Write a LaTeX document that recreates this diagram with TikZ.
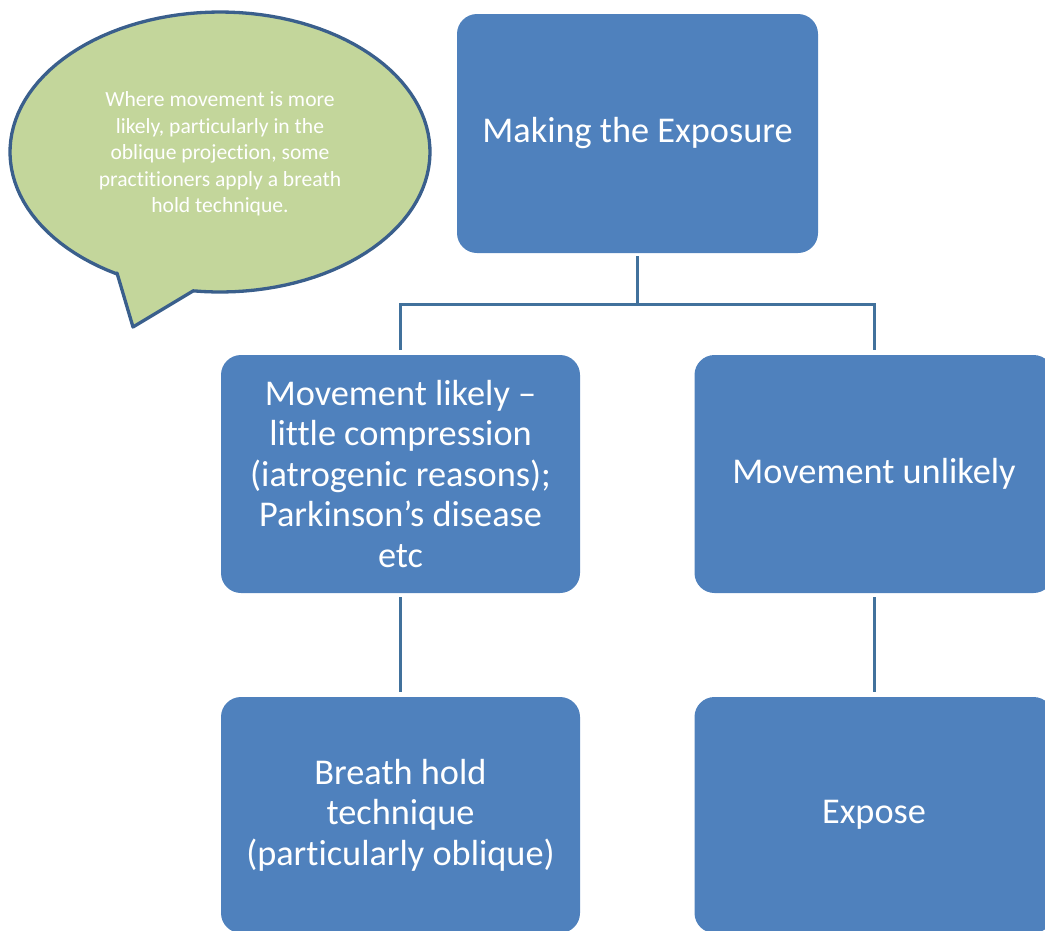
\documentclass[tikz,border=0pt]{standalone}
\usepackage{fontspec}
\setmainfont{Carlito}[Ligatures=NoCommon]
\usepackage{xcolor}
\usetikzlibrary{positioning}
\definecolor{boxblue}{HTML}{4F81BD}
\definecolor{linkblue}{HTML}{41719C}
\definecolor{notegreen}{HTML}{C3D69B}
\definecolor{noteedge}{HTML}{3A5F8C}
\tikzset{
      stepbox/.style  = {rectangle, rounded corners=20pt, fill=boxblue, text=white,
                         minimum width=359pt, minimum height=238pt, inner sep=0pt,
                         align=center, font=\fontsize{36.3}{40.5}\selectfont},
      link/.style     = {draw=linkblue, line width=3pt},
      notetext/.style = {text=white, align=center, inner sep=0pt,
                         font=\fontsize{21.6}{26.5}\selectfont}
    }

\begin{document}
\begin{tikzpicture}[x=1pt, y=-1pt]
  \useasboundingbox (0,0) rectangle (1045,930);
  \clip (0,0) rectangle (1045,930);
  % Speech bubble
  \filldraw[fill=notegreen, draw=noteedge, line width=3.3pt, line join=round]
    (117,273) -- (133,327) -- (193,291)
    -- plot[domain=97.4:-240.6, samples=120] ({220+210*cos(\x)}, {152+140*sin(\x)}) -- cycle;
  \node[notetext] (note) at (220,154) {Where movement is more\\likely, particularly in the\\oblique projection, some\\practitioners apply a breath\\hold technique.};
  % Boxes
  \node[stepbox, minimum width=361pt, minimum height=239pt] (make) at (637.5,133.5) {Making the Exposure};
  \node[stepbox] (likely) at (400.5,474) {Movement likely –\\little compression\\(iatrogenic reasons);\\Parkinson’s disease\\etc};
  \node[stepbox] (unlikely) at (874,474) {Movement unlikely};
  \node[stepbox, minimum height=236pt] (breath) at (400.5,815) {Breath hold\\technique\\(particularly oblique)};
  \node[stepbox, minimum height=236pt] (expose) at (874,815) {Expose};
  % Connectors
  \coordinate (fork) at (637.5,304);
  \draw[link, shorten <=3pt] (make.south) -- (fork);
  \draw[link, shorten >=5pt] (fork) -| (likely.north);
  \draw[link, shorten >=5pt] (fork) -| (unlikely.north);
  \draw[link, shorten <=4pt, shorten >=5pt] (likely.south) -- (breath.north);
  \draw[link, shorten <=4pt, shorten >=5pt] (unlikely.south) -- (expose.north);
\end{tikzpicture}
\end{document}
